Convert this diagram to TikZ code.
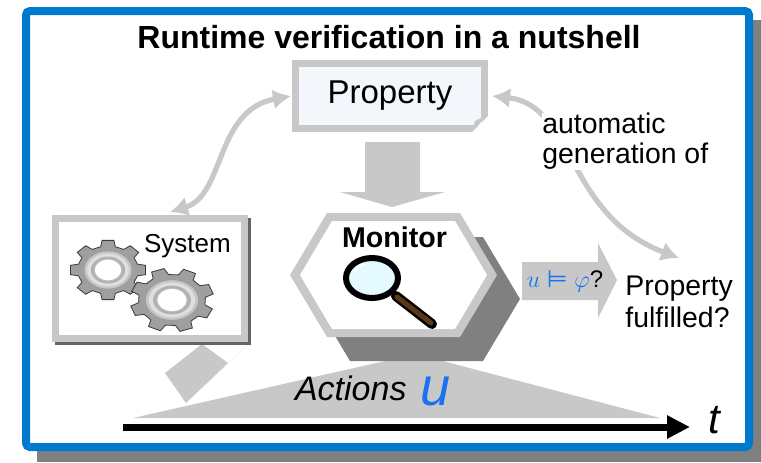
\documentclass[tikz,border=0pt]{standalone}
\usepackage{amsmath,amssymb}
\usepackage{fontspec}
\setmainfont{Liberation Sans}
\newfontfamily\symfont{DejaVu Sans}
\usetikzlibrary{arrows.meta,positioning,calc}

\definecolor{rvblue}{RGB}{0,122,204}
\definecolor{lgray}{RGB}{200,200,200}
\definecolor{dgray}{RGB}{128,128,128}
\definecolor{sysshadow}{RGB}{100,100,100}
\definecolor{propfill}{RGB}{243,247,251}
\definecolor{lensfill}{RGB}{228,250,255}
\definecolor{handlebrown}{RGB}{92,56,24}
\definecolor{tracecol}{RGB}{25,115,240}

\tikzset{
  txt/.style={inner sep=0pt,align=left,font=\fontsize{14.2}{15}\selectfont},
  fatarrow/.style={fill=lgray,draw=none},
  propbox/.style={draw=lgray,line width=3.5pt,fill=propfill,minimum width=94.5pt,minimum height=32.5pt,font=\fontsize{16.5}{18}\selectfont},
  sysbox/.style={draw=lgray,line width=3.5pt,fill=white,minimum width=94.5pt,minimum height=60pt},
  genarrow/.style={lgray,line width=2.6pt,{Latex[length=9pt,width=10pt]}-{Latex[length=9pt,width=10pt]}},
  gear/.pic={
    \fill[gray!75,draw=gray!45!black,line width=0.4pt]
      (-9:1) \foreach \a in {0,45,...,315}{ -- (\a-9:1) -- (\a+9:1) -- (\a+14:0.8) -- (\a+31:0.8)} -- cycle;
    \fill[gray!45] (0,0) circle (0.62);
    \fill[gray!25] (0,0) circle (0.55);
    \fill[gray!60] (0,0) circle (0.45);
    \fill[white,draw=gray!50,line width=0.4pt] (0,0) circle (0.36);
  }
}

\begin{document}
\begin{tikzpicture}[x=0.5pt,y=-0.5pt,>=stealth]
\useasboundingbox (0,0) rectangle (761,462);
% frame with its shadow
\fill[dgray] (37,20) rectangle (761,462);
\draw[rvblue,line width=4pt,rounded corners=2pt,fill=white] (26,11) rectangle (749,447);

% actions under the time line
\fill[lgray] (133,418) -- (416,354) -- (660,418) -- cycle;
\fill[lgray] (165,373) -- (202,344) -- (228,363) -- (247,345) -- (186,403) -- cycle;

% verdict arrow
\fill[fatarrow] (522,262) -- (598,262) -- (598,243) -- (617,280) -- (598,318) -- (598,300) -- (522,300) -- cycle;
\node[anchor=base,font=\fontsize{12}{14}\selectfont,text=tracecol] (formula) at (565,287) {$u$ {\symfont ⊨} $\varphi$\textcolor{black}{?}};

% the monitor
\fill[dgray,shift={(23,24)}] (290,275) -- (327,213) -- (460,213) -- (497,275) -- (460,337) -- (327,337) -- cycle;
\fill[lgray] (290,275) -- (327,213) -- (460,213) -- (497,275) -- (460,337) -- (327,337) -- cycle;
\fill[white] (300,275) -- (332,221) -- (455,221) -- (487,275) -- (455,329) -- (332,329) -- cycle;
\node[anchor=base,font=\bfseries\fontsize{14.3}{16}\selectfont] (monitor) at (394.5,247) {Monitor};
\draw[black,line width=5pt,line cap=round] (396,296) -- (432,324);
\draw[handlebrown,line width=2.5pt,line cap=round] (397,297) -- (431,323);
\draw[black,line width=3pt,fill=lensfill] (372,278) ellipse (26 and 20);
\draw[white,line width=1pt] (355,272) arc (200:250:17 and 13);

% property to monitor
\fill[fatarrow] (365,142) -- (420,142) -- (420,192) -- (445,192) -- (392,207) -- (340,192) -- (365,192) -- cycle;

% property
\node[propbox] (property) at (390,96) {Property};
\fill[white] (490,114) -- (490,134) -- (470,134) -- cycle;
\fill[lgray] (488,114) -- (472,132) -- (475,121) -- cycle;

% system with gears
\fill[sysshadow] (55,218) rectangle (251,345);
\node[sysbox] (sysbox) at (150,278.5) {};
\node[anchor=base west,font=\fontsize{13}{15}\selectfont] (system) at (137,252) {System};
\pic[xscale=38,yscale=30] at (108,270) {gear};
\pic[xscale=42,yscale=32,rotate=20] at (172,300) {gear};

% automatic generation
\node[txt,anchor=north west] (verdict) at (625,276) {Property\\[1pt]fulfilled?};
\draw[genarrow] ($(sysbox.north)+(20,-3)$) .. controls (225,195) and (215,110) .. ($(property.west)+(-1,0)$);
\draw[genarrow] ($(property.east)+(4,0)$) .. controls (575,105) and (565,215) .. ($(verdict.north)+(0,-18)$);
\node[txt,anchor=north west,fill=white] (gen) at (542,113) {automatic\\generation of};

% time line
\coordinate (t0) at (123,427);
\coordinate (t1) at (690,427);
\draw[line width=3.5pt,-{Triangle[length=11.5pt,width=11pt]}] (t0) -- (t1);
\node[anchor=base west,font=\itshape\fontsize{21}{24}\selectfont] (time) at (701,433) {t};
\node[anchor=base west,font=\itshape\fontsize{17}{20}\selectfont] (actions) at (288,400) {Actions};
\node[anchor=base west,font=\itshape\fontsize{27}{30}\selectfont,text=tracecol] (trace) at (413,405) {u};

\node[anchor=base,font=\bfseries\fontsize{16}{19}\selectfont] (title) at (389,48) {Runtime verification in a nutshell};
\end{tikzpicture}
\end{document}
